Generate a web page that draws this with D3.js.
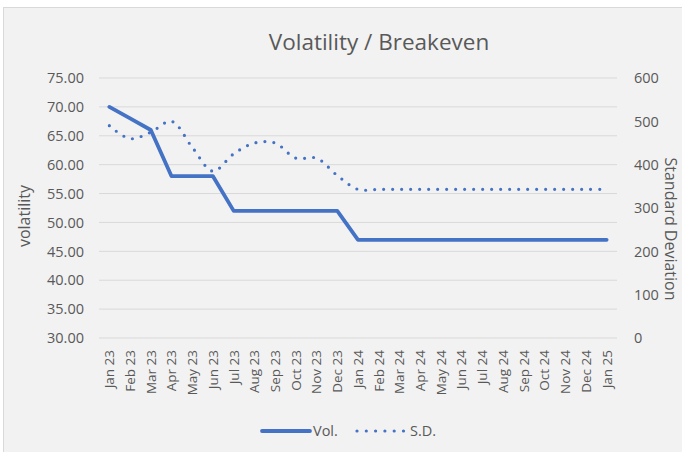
<!DOCTYPE html>
<html>
<head>
<meta charset="utf-8">
<script src="https://cdn.jsdelivr.net/npm/d3@7"></script>
<style>
  body { margin: 0; background: #fff; }
  text { font-family: "Open Sans", sans-serif; fill: #595959; }
</style>
</head>
<body>
<div id="chart"></div>
<script>
// chart data
const months = ["Jan 23","Feb 23","Mar 23","Apr 23","May 23","Jun 23","Jul 23","Aug 23","Sep 23","Oct 23","Nov 23","Dec 23",
                "Jan 24","Feb 24","Mar 24","Apr 24","May 24","Jun 24","Jul 24","Aug 24","Sep 24","Oct 24","Nov 24","Dec 24","Jan 25"]
const vol = [70,68,66,58,58,58,52,52,52,52,52,52,47,47,47,47,47,47,47,47,47,47,47,47,47]
const sd  = [490,460,475,500,440,385,425,450,450,415,415,375,343,343,343,343,343,343,343,343,343,343,343,343,343]
const volTicks = [30,35,40,45,50,55,60,65,70,75]
const sdTicks = [0,100,200,300,400,500,600]

const WIDTH = 682
const HEIGHT = 452
const COLOR = "#4472c4"

const svg = d3.select("#chart")
    .append("svg")
    .attr("width", WIDTH)
    .attr("height", HEIGHT)

// chart box
svg.append("rect")
    .attr("x", 3.5).attr("y", 7.5)
    .attr("width", WIDTH + 10).attr("height", HEIGHT + 10)
    .style("fill", "#f2f2f2")
    .style("stroke", "#d9d9d9")

const plot = { left: 99, right: 617, top: 78, bottom: 338 }

const x = d3.scaleBand()
    .domain(months)
    .range([plot.left, plot.right])

const yL = d3.scaleLinear().domain([30, 75]).range([plot.bottom, plot.top])
const yR = d3.scaleLinear().domain([0, 600]).range([plot.bottom, plot.top])

// gridlines
svg.append("g")
    .selectAll("line")
    .data(volTicks)
    .enter()
    .append("line")
    .attr("x1", plot.left).attr("x2", plot.right)
    .attr("y1", d => yL(d)).attr("y2", d => yL(d))
    .style("stroke", "#d9d9d9")
    .style("stroke-width", 1)

// left axis labels
svg.append("g")
    .selectAll("text")
    .data(volTicks)
    .enter()
    .append("text")
    .attr("x", 84)
    .attr("y", d => yL(d))
    .attr("dy", "0.36em")
    .attr("text-anchor", "end")
    .style("font-size", "14.5px")
    .text(d => d.toFixed(2))

// right axis labels
svg.append("g")
    .selectAll("text")
    .data(sdTicks)
    .enter()
    .append("text")
    .attr("x", 634)
    .attr("y", d => yR(d))
    .attr("dy", "0.36em")
    .style("font-size", "14.5px")
    .text(d => d)

// x labels
svg.append("g")
    .selectAll("text")
    .data(months)
    .enter()
    .append("text")
    .attr("transform", d => `translate(${x(d) + x.bandwidth() / 2},350) rotate(-90)`)
    .attr("dy", "0.36em")
    .attr("text-anchor", "end")
    .style("font-size", "13.5px")
    .text(d => d)

// axis titles
svg.append("text")
    .attr("transform", `translate(24,216) rotate(-90)`)
    .attr("text-anchor", "middle")
    .attr("dy", "0.36em")
    .style("font-size", "16px")
    .text("volatility")

svg.append("text")
    .attr("transform", `translate(671,229) rotate(90)`)
    .attr("text-anchor", "middle")
    .attr("dy", "0.36em")
    .style("font-size", "16px")
    .text("Standard Deviation")

svg.append("text")
    .attr("x", 379).attr("y", 50)
    .attr("text-anchor", "middle")
    .style("font-size", "22.5px")
    .text("Volatility / Breakeven")

// lines
const cx = (d, i) => x(months[i]) + x.bandwidth() / 2

const sdLine = d3.line()
    .x(cx)
    .y(d => yR(d))
    .curve(d3.curveCatmullRom)

const volLine = d3.line()
    .x(cx)
    .y(d => yL(d))

svg.append("path")
    .attr("d", sdLine(sd))
    .style("fill", "none")
    .style("stroke", COLOR)
    .style("stroke-width", 3.2)
    .style("stroke-linecap", "round")
    .style("stroke-dasharray", "0,9")

svg.append("path")
    .attr("d", volLine(vol))
    .style("fill", "none")
    .style("stroke", COLOR)
    .style("stroke-width", 3.8)
    .style("stroke-linecap", "round")
    .style("stroke-linejoin", "round")

// legend
const legend = svg.append("g")
legend.append("line")
    .attr("x1", 262).attr("x2", 310).attr("y1", 431).attr("y2", 431)
    .style("stroke", COLOR).style("stroke-width", 3.8).style("stroke-linecap", "round")
legend.append("text")
    .attr("x", 313).attr("y", 431).attr("dy", "0.36em")
    .style("font-size", "14.5px")
    .text("Vol.")
legend.append("line")
    .attr("x1", 357).attr("x2", 404).attr("y1", 431).attr("y2", 431)
    .style("stroke", COLOR).style("stroke-width", 3.2).style("stroke-linecap", "round")
    .style("stroke-dasharray", "0,9.3")
legend.append("text")
    .attr("x", 410).attr("y", 431).attr("dy", "0.36em")
    .style("font-size", "14.5px")
    .text("S.D.")
</script>
</body>
</html>
